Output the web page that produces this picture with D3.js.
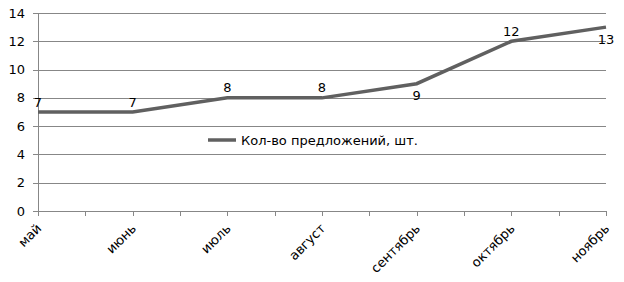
<!DOCTYPE html>
<html>
<head>
<meta charset="utf-8">
<script src="https://cdn.jsdelivr.net/npm/d3@7"></script>
<style>
body { margin: 0; background: #fff; }
text { font-family: "DejaVu Sans", sans-serif; font-size: 13px; fill: #000; }
</style>
</head>
<body>
<div class="chart"></div>
<script>
const months = ['май', 'июнь', 'июль', 'август', 'сентябрь', 'октябрь', 'ноябрь']
const offers = [7, 7, 8, 8, 9, 12, 13]
const labelBelow = [false, false, false, false, true, false, true]
const yTicks = [0, 2, 4, 6, 8, 10, 12, 14]
const seriesName = 'Кол-во предложений, шт.'

const width = 624, height = 282
const plotLeft = 38, plotRight = 606, plotTop = 13, plotBottom = 211

let svg = d3.select('.chart')
.append('svg')
.attr('width', width)
.attr('height', height)

let x = d3.scalePoint()
.domain(months)
.range([plotLeft, plotRight])

let y = d3.scaleLinear()
.domain([0, 14])
.range([plotBottom, plotTop])

// grid
svg.append('g')
.selectAll('line')
.data(yTicks)
.enter()
.append('line')
.attr('x1', plotLeft - 5)
.attr('x2', plotRight)
.attr('y1', d => Math.round(y(d)) + 0.5)
.attr('y2', d => Math.round(y(d)) + 0.5)
.attr('stroke', '#878787')

// y axis
svg.append('line')
.attr('x1', plotLeft + 0.5).attr('x2', plotLeft + 0.5)
.attr('y1', plotTop).attr('y2', plotBottom + 5)
.attr('stroke', '#878787')

svg.append('g')
.selectAll('text')
.data(yTicks)
.enter()
.append('text')
.attr('x', plotLeft - 13)
.attr('y', d => y(d))
.attr('dy', '0.35em')
.attr('text-anchor', 'end')
.text(d => d)

// x ticks at points and between them
let step = x.step()
let tickPos = d3.range(months.length * 2 - 1).map(i => plotLeft + i * step / 2)
svg.append('g')
.selectAll('line')
.data(tickPos)
.enter()
.append('line')
.attr('x1', d => Math.round(d) + 0.5)
.attr('x2', d => Math.round(d) + 0.5)
.attr('y1', plotBottom)
.attr('y2', plotBottom + 5)
.attr('stroke', '#878787')

svg.append('g')
.selectAll('text')
.data(months)
.enter()
.append('text')
.attr('text-anchor', 'end')
.attr('transform', d => `translate(${x(d) + 1},${plotBottom + 15}) rotate(-45)`)
.attr('dy', '0.35em')
.text(d => d)

// line
let line = d3.line()
.x((d, i) => x(months[i]))
.y(d => y(d))

svg.append('path')
.datum(offers)
.attr('d', line)
.attr('fill', 'none')
.attr('stroke', '#606060')
.attr('stroke-width', 3.5)

// value labels
svg.append('g')
.selectAll('text')
.data(offers)
.enter()
.append('text')
.attr('x', (d, i) => x(months[i]))
.attr('y', (d, i) => y(d) + (labelBelow[i] ? 12 : -10))
.attr('dy', '0.35em')
.attr('text-anchor', 'middle')
.text(d => d)

// legend
let legend = svg.append('g').attr('transform', 'translate(208,140)')
legend.append('line')
.attr('x1', 0).attr('x2', 28)
.attr('stroke', '#606060')
.attr('stroke-width', 3.5)
legend.append('text')
.attr('x', 33)
.attr('dy', '0.35em')
.text(seriesName)
</script>
</body>
</html>
